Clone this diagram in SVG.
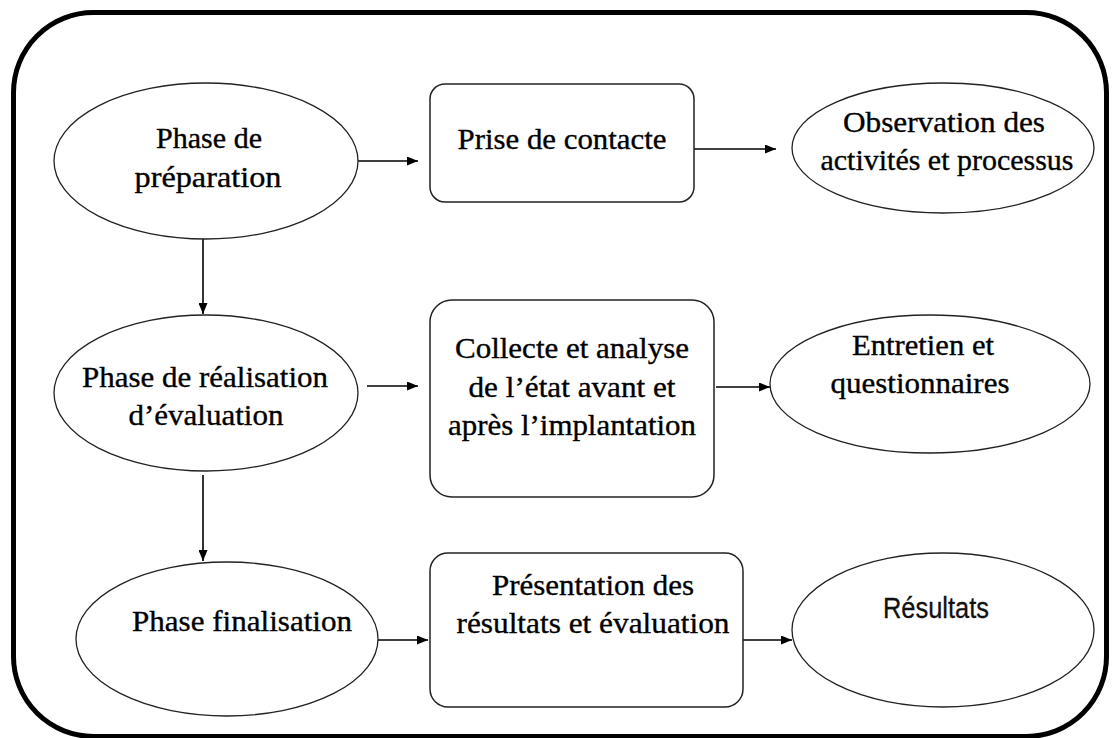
<svg xmlns="http://www.w3.org/2000/svg" width="1119" height="738" viewBox="0 0 1119 738">
<style>
.frame{fill:none;stroke:#000;stroke-width:5}
.ell{fill:#fff;stroke:#222;stroke-width:1.3}
.box{fill:#fff;stroke:#222;stroke-width:1.5}
.t{font-family:"Liberation Serif","Times New Roman",serif;font-size:30px;fill:#000;stroke:#000;stroke-width:0.35;text-anchor:middle}
.s{font-family:"Liberation Sans",Arial,sans-serif;font-size:29px;fill:#111;stroke:#111;stroke-width:0.3;text-anchor:middle}
.c{stroke:#000;stroke-width:1.6;fill:none;marker-end:url(#ah)}
</style>
<defs>
<marker id="ah" markerUnits="userSpaceOnUse" markerWidth="11" markerHeight="9" refX="11" refY="4.5" orient="auto">
<path d="M0,0 L11,4.5 L0,9 z" fill="#000"/>
</marker>
</defs>
<rect width="1119" height="738" fill="#fff"/>
<rect class="frame" x="13.5" y="12.5" width="1093" height="724" rx="80" ry="80"/>
<g id="connectors">
<line class="c" x1="358" y1="161" x2="418" y2="161"/>
<line class="c" x1="694" y1="149" x2="776" y2="149"/>
<line class="c" x1="203" y1="239" x2="203" y2="314"/>
<line class="c" x1="367" y1="386" x2="418" y2="386"/>
<line class="c" x1="716" y1="387" x2="770" y2="387"/>
<line class="c" x1="203" y1="475" x2="203" y2="561"/>
<line class="c" x1="378" y1="640" x2="428" y2="640"/>
<line class="c" x1="743" y1="640" x2="792" y2="640"/>
</g>
<g id="n1">
<ellipse class="ell" cx="206" cy="161" rx="152" ry="78"/>
<text class="t" x="209" y="148" textLength="106" lengthAdjust="spacingAndGlyphs">Phase de</text>
<text class="t" x="208" y="187" textLength="147" lengthAdjust="spacingAndGlyphs">préparation</text>
</g>
<g id="n2">
<rect class="box" x="430" y="84" width="264" height="118" rx="15" ry="15"/>
<text class="t" x="562" y="149" textLength="209" lengthAdjust="spacingAndGlyphs">Prise de contacte</text>
</g>
<g id="n3">
<ellipse class="ell" cx="943" cy="148" rx="151" ry="65"/>
<text class="t" x="944" y="132" textLength="202" lengthAdjust="spacingAndGlyphs">Observation des</text>
<text class="t" x="947" y="170" textLength="253" lengthAdjust="spacingAndGlyphs">activités et processus</text>
</g>
<g id="n4">
<ellipse class="ell" cx="206" cy="393" rx="152" ry="78"/>
<text class="t" x="205" y="387" textLength="246" lengthAdjust="spacingAndGlyphs">Phase de réalisation</text>
<text class="t" x="206" y="425" textLength="155" lengthAdjust="spacingAndGlyphs">d’évaluation</text>
</g>
<g id="n5">
<rect class="box" x="430" y="300" width="284" height="197" rx="22" ry="22"/>
<text class="t" x="572" y="358" textLength="234" lengthAdjust="spacingAndGlyphs">Collecte et analyse</text>
<text class="t" x="572" y="397" textLength="207" lengthAdjust="spacingAndGlyphs">de l’état avant et</text>
<text class="t" x="572" y="435" textLength="248" lengthAdjust="spacingAndGlyphs">après l’implantation</text>
</g>
<g id="n6">
<ellipse class="ell" cx="930" cy="384" rx="160" ry="69"/>
<text class="t" x="923" y="355" textLength="142" lengthAdjust="spacingAndGlyphs">Entretien et</text>
<text class="t" x="920" y="393" textLength="179" lengthAdjust="spacingAndGlyphs">questionnaires</text>
</g>
<g id="n7">
<ellipse class="ell" cx="227" cy="639" rx="151" ry="77"/>
<text class="t" x="242" y="631" textLength="220" lengthAdjust="spacingAndGlyphs">Phase finalisation</text>
</g>
<g id="n8">
<rect class="box" x="430" y="553" width="313" height="154" rx="18" ry="18"/>
<text class="t" x="593" y="595" textLength="202" lengthAdjust="spacingAndGlyphs">Présentation des</text>
<text class="t" x="593" y="633" textLength="273" lengthAdjust="spacingAndGlyphs">résultats et évaluation</text>
</g>
<g id="n9">
<ellipse class="ell" cx="943" cy="630" rx="151" ry="77"/>
<text class="s" x="936" y="618" textLength="106" lengthAdjust="spacingAndGlyphs">Résultats</text>
</g>
</svg>
